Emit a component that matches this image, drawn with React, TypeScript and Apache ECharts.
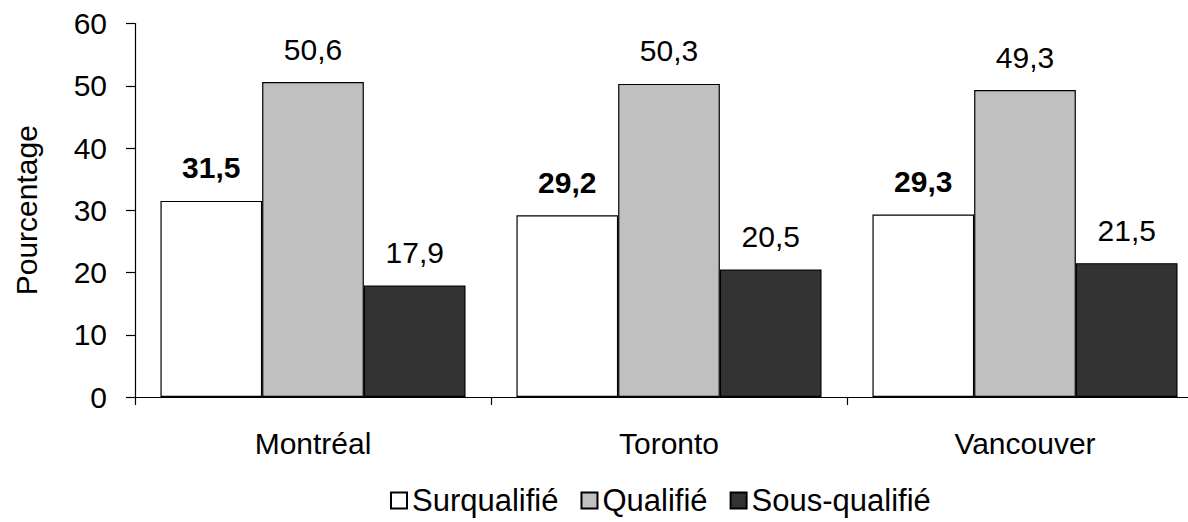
import React, { useEffect, useRef } from "react";
import * as echarts from "echarts";

const categories = ["Montréal", "Toronto", "Vancouver"];
const seriesNames = ["Surqualifié", "Qualifié", "Sous-qualifié"];
const surqualifie = [31.5, 29.2, 29.3];
const qualifie = [50.6, 50.3, 49.3];
const sousQualifie = [17.9, 20.5, 21.5];
const yTicks = { min: 0, max: 60, interval: 10 };
const yAxisTitle = "Pourcentage";

const FONT = "'Liberation Sans', Arial, Helvetica, sans-serif";

export default function App() {
  const ref = useRef<HTMLDivElement>(null);
  useEffect(() => {
    if (!ref.current) return;
    const chart = echarts.init(ref.current, null, { renderer: "svg" });
    const fmt = (p: any) => String(p.value).replace(".", ",");
    const mkSeries = (name: string, data: number[], color: string, bold: boolean) => ({
      name,
      type: "bar",
      data,
      barGap: "0%",
      barCategoryGap: "14.3%",
      itemStyle: { color, borderColor: "#000", borderWidth: 1.2 },
      label: {
        show: true,
        position: "top",
        distance: 18,
        formatter: fmt,
        color: "#000",
        fontSize: 30,
        fontFamily: FONT,
        fontWeight: bold ? "bold" : "normal",
      },
    });
    chart.setOption({
      animation: false,
      backgroundColor: "#fff",
      textStyle: { fontFamily: FONT },
      grid: {
        left: 135,
        right: -15,
        top: 23.5,
        bottom: 125,
        containLabel: false,
        outerBoundsMode: "none",
      },
      legend: {
        data: seriesNames,
        left: 385,
        top: 480,
        itemWidth: 16,
        itemHeight: 16,
        itemGap: 22,
        icon: "rect",
        textStyle: { fontSize: 31, color: "#000", fontFamily: FONT },
      },
      xAxis: {
        type: "category",
        data: categories,
        axisLine: { show: true, lineStyle: { color: "#000", width: 1.2 } },
        axisTick: { show: true, length: 8, lineStyle: { color: "#000", width: 1.2 } },
        axisLabel: { color: "#000", fontSize: 30, fontFamily: FONT, margin: 31 },
      },
      yAxis: {
        type: "value",
        min: yTicks.min,
        max: yTicks.max,
        interval: yTicks.interval,
        name: yAxisTitle,
        nameLocation: "middle",
        nameGap: 94,
        nameTextStyle: { color: "#000", fontSize: 30, fontFamily: FONT },
        splitLine: { show: false },
        axisLine: { show: true, lineStyle: { color: "#000", width: 1.2 } },
        axisTick: { show: true, length: 9, lineStyle: { color: "#000", width: 1.2 } },
        axisLabel: { color: "#000", fontSize: 30, fontFamily: FONT, margin: 28 },
      },
      series: [
        mkSeries(seriesNames[0], surqualifie, "#ffffff", true),
        mkSeries(seriesNames[1], qualifie, "#c0c0c0", false),
        mkSeries(seriesNames[2], sousQualifie, "#333333", false),
      ],
    });
    return () => chart.dispose();
  }, []);
  return (
    <div
      ref={ref}
      style={{ position: "fixed", left: 0, top: 0, width: 1188, height: 522, background: "#fff" }}
    />
  );
}
